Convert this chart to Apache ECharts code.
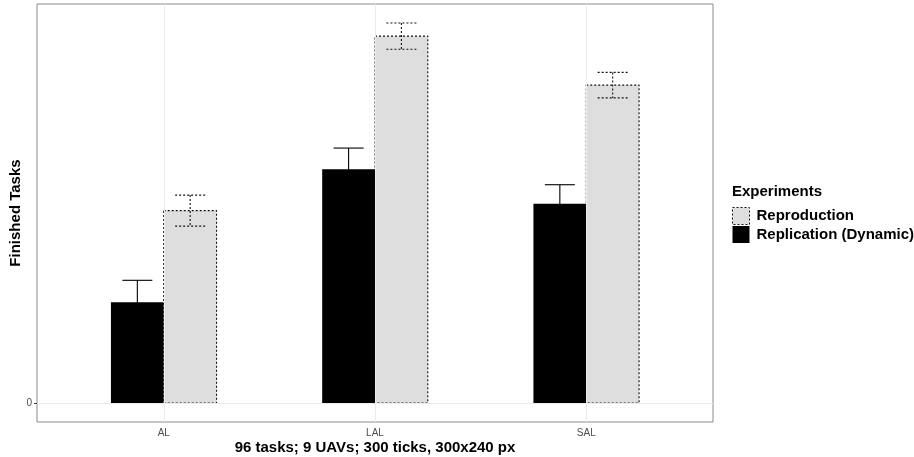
<!DOCTYPE html>
<html>
<head>
<meta charset="utf-8">
<script src="https://cdn.jsdelivr.net/npm/echarts@6/dist/echarts.min.js"></script>
</head>
<body style="margin:0;">
<div id="main" style="width:914px;height:457px;"></div>
<script type="text/javascript">
// data
var categories = ['AL', 'LAL', 'SAL'];
var reproduction = [48.3, 92.1, 79.8];
var reproductionErr = [3.9, 3.3, 3.2];
var replication = [25.3, 58.7, 50.0];
var replicationErr = [5.5, 5.3, 4.8];
var yTicks = [0];

var FONT = '"Liberation Sans", Arial, sans-serif';
var BAR_W = 0.25;   // each dodged bar, in x units
var CAP_W = 0.071;  // half of error bar cap

function makeData(vals, errs) {
    return vals.map(function (v, i) { return [i + 1, v, errs[i]]; });
}

function barRenderer(offset, fill, dashed) {
    return function (params, api) {
        var x = api.value(0) + offset;
        var v = api.value(1), e = api.value(2);
        var p0 = api.coord([x - BAR_W / 2, v]);
        var p1 = api.coord([x + BAR_W / 2, 0]);
        var lineStyle = {stroke: dashed ? '#111' : '#000', lineWidth: 1.1, lineDash: dashed ? [2, 2] : null, fill: null};
        var top = api.coord([x, v + e]), bot = api.coord([x, v - e]);
        var capL = api.coord([x - CAP_W, 0])[0], capR = api.coord([x + CAP_W, 0])[0];
        return {
            type: 'group',
            children: [
                {type: 'rect', shape: {x: p0[0], y: p0[1], width: p1[0] - p0[0], height: p1[1] - p0[1]},
                 style: {fill: fill, stroke: dashed ? '#111' : null, lineWidth: 1.1, lineDash: dashed ? [2, 2] : null}},
                {type: 'line', shape: {x1: top[0], y1: top[1], x2: bot[0], y2: bot[1]}, style: lineStyle},
                {type: 'line', shape: {x1: capL, y1: top[1], x2: capR, y2: top[1]}, style: lineStyle},
                {type: 'line', shape: {x1: capL, y1: bot[1], x2: capR, y2: bot[1]}, style: lineStyle}
            ]
        };
    };
}

var chart = echarts.init(document.getElementById('main'));
var option = {
    animation: false,
    textStyle: {fontFamily: FONT},
    title: {
        text: 'Experiments', left: 732, top: 184, padding: 0,
        textStyle: {fontFamily: FONT, fontSize: 15, fontWeight: 'bold', color: '#000'}
    },
    legend: {
        orient: 'vertical', left: 727, top: 202, itemGap: 1,
        itemWidth: 17, itemHeight: 17,
        textStyle: {fontFamily: FONT, fontSize: 15, fontWeight: 'bold', color: '#000', padding: [0, 0, 0, 2]},
        data: [
            {name: 'Reproduction', icon: 'rect', itemStyle: {color: '#dedede', borderColor: '#111', borderWidth: 1, borderType: [2, 2]}},
            {name: 'Replication (Dynamic)', icon: 'rect', itemStyle: {color: '#000', borderWidth: 0}}
        ]
    },
    grid: {left: 37, right: 201, top: 4, bottom: 35, outerBoundsMode: 'none', containLabel: false,
           show: true, borderColor: '#8a8a8a', borderWidth: 1, backgroundColor: '#fff'},
    xAxis: {
        type: 'value', min: 0.4, max: 3.6,
        name: '96 tasks; 9 UAVs; 300 ticks, 300x240 px', nameLocation: 'middle', nameGap: 18, nameMoveOverlap: false,
        nameTextStyle: {fontFamily: FONT, fontSize: 15, fontWeight: 'bold', color: '#000'},
        axisLine: {show: false},
        axisTick: {show: true, length: 3, customValues: [1, 2, 3], lineStyle: {color: '#333'}},
        axisLabel: {customValues: [1, 2, 3], margin: 6, fontSize: 10, color: '#4d4d4d',
                    formatter: function (v) { return categories[Math.round(v) - 1]; }},
        splitLine: {show: false}
    },
    yAxis: {
        type: 'value', min: -4.77, max: 100.17,
        name: 'Finished Tasks', nameLocation: 'middle', nameRotate: 90, nameGap: 14, nameMoveOverlap: false,
        nameTextStyle: {fontFamily: FONT, fontSize: 15, fontWeight: 'bold', color: '#000'},
        axisLine: {show: false},
        axisTick: {show: true, length: 3, customValues: yTicks, lineStyle: {color: '#333'}},
        axisLabel: {customValues: yTicks, margin: 5, fontSize: 10, color: '#4d4d4d'},
        splitLine: {show: false}
    },
    series: [
        {
            // grid lines
            type: 'line', data: [], z: 0, silent: true,
            markLine: {
                silent: true, symbol: 'none', label: {show: false},
                lineStyle: {color: '#ebebeb', width: 1, type: 'solid'},
                data: categories.map(function (c, i) { return {xAxis: i + 1}; })
                    .concat(yTicks.map(function (t) { return {yAxis: t}; }))
            }
        },
        {
            name: 'Replication (Dynamic)', type: 'custom', z: 2,
            itemStyle: {color: '#000'},
            renderItem: barRenderer(-BAR_W / 2, '#000', false),
            data: makeData(replication, replicationErr)
        },
        {
            name: 'Reproduction', type: 'custom', z: 2,
            itemStyle: {color: '#dedede'},
            renderItem: barRenderer(BAR_W / 2, '#dedede', true),
            data: makeData(reproduction, reproductionErr)
        }
    ]
};
chart.setOption(option);
</script>
</body>
</html>
